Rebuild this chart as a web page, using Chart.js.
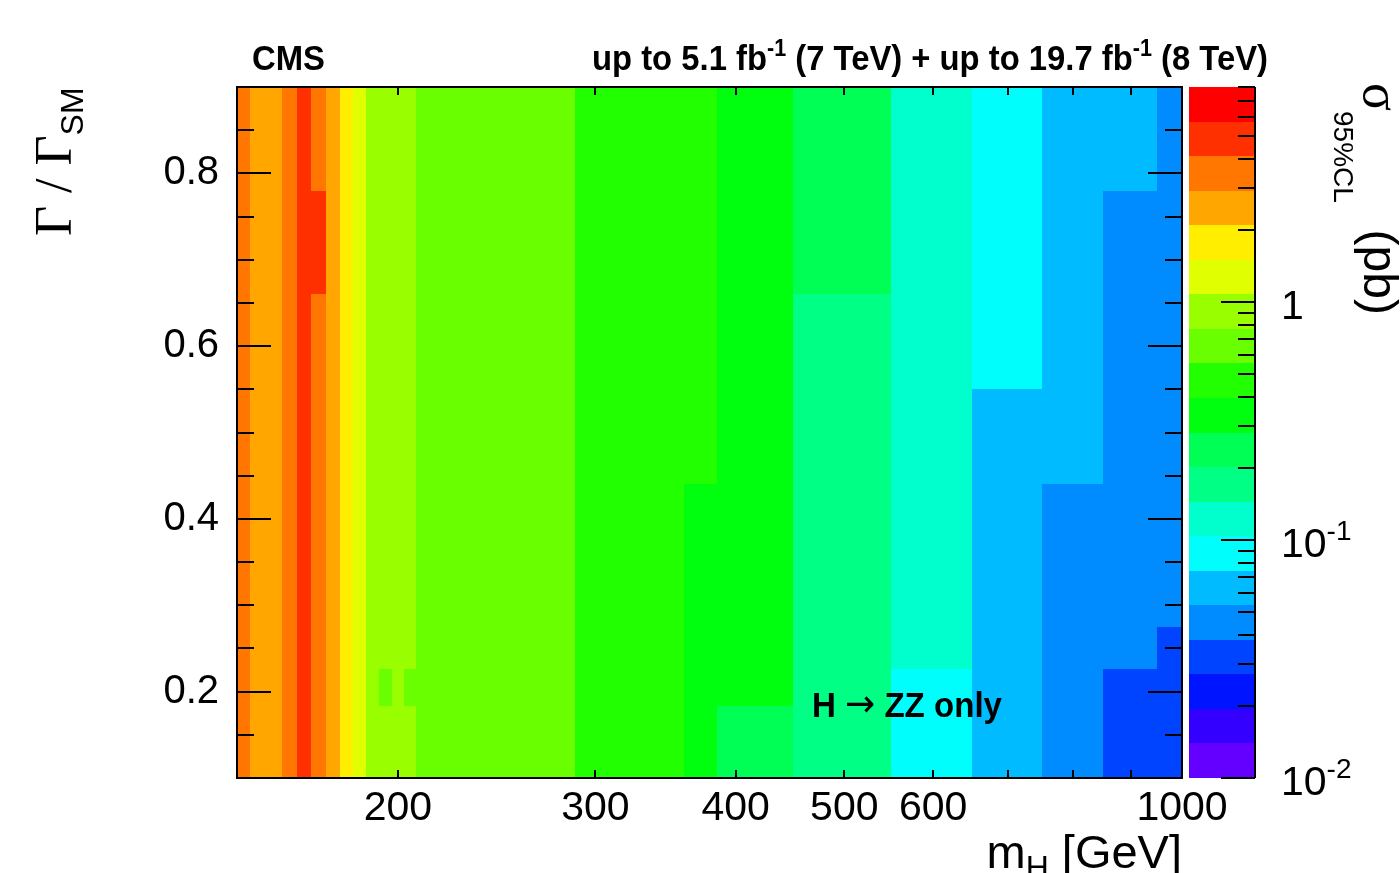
<!DOCTYPE html>
<html>
<head>
<meta charset="utf-8">
<title>Width vs mass limits</title>
<script src="https://cdn.jsdelivr.net/npm/chart.js@4.4.1/dist/chart.umd.min.js"></script>
<style>
  html, body { margin: 0; padding: 0; background: #fff; }
  #wrap { width: 1400px; height: 873px; }
</style>
</head>
<body>
<div id="wrap"><canvas id="limits" width="1400" height="873"></canvas></div>
<script>
// mass bin edges (GeV)
var massEdges = [143.75, 147.5, 157.5, 162.5, 167.5, 172.5, 177.5, 182.5, 187.5, 192.5, 197.5,
                 202.5, 207.5, 287.5, 360, 385, 450, 550, 650, 750, 850, 950, 1000];
// width bin edges (Gamma / Gamma_SM)
var widthEdges = [0.1, 0.183, 0.226, 0.275, 0.44, 0.55, 0.66, 0.78, 0.9];

// 95% CL limit on sigma (pb), one row per width bin, lowest width first
var sigmaRow0 = [3.4, 2.6, 3.3, 4.6, 3.6, 2.7, 1.9, 1.25, 0.95, 0.86, 0.88, 0.83, 0.62, 0.45, 0.36, 0.25, 0.16, 0.095, 0.068, 0.049, 0.036, 0.035];
var sigmaRow1 = [3.4, 2.6, 3.3, 4.6, 3.6, 2.7, 1.9, 1.25, 0.95, 0.74, 0.88, 0.72, 0.62, 0.45, 0.36, 0.31, 0.16, 0.095, 0.068, 0.049, 0.036, 0.035];
var sigmaRow2 = [3.4, 2.6, 3.3, 4.6, 3.6, 2.7, 1.9, 1.25, 0.95, 0.86, 0.88, 0.83, 0.62, 0.45, 0.36, 0.31, 0.16, 0.13, 0.068, 0.049, 0.043, 0.035];
var sigmaRow3 = [3.3, 2.6, 3.3, 4.6, 3.6, 2.7, 1.9, 1.25, 0.94, 0.86, 0.88, 0.83, 0.62, 0.45, 0.36, 0.31, 0.16, 0.13, 0.067, 0.048, 0.043, 0.047];
var sigmaRow4 = [3.3, 2.6, 3.3, 4.7, 3.6, 2.7, 1.9, 1.26, 0.94, 0.87, 0.88, 0.84, 0.63, 0.46, 0.41, 0.31, 0.16, 0.13, 0.068, 0.058, 0.044, 0.047];
var sigmaRow5 = [3.3, 2.6, 3.3, 4.7, 3.7, 2.7, 1.9, 1.26, 0.94, 0.87, 0.88, 0.84, 0.63, 0.46, 0.41, 0.31, 0.16, 0.13, 0.082, 0.058, 0.044, 0.047];
var sigmaRow6 = [3.3, 2.6, 3.4, 4.7, 4.4, 2.7, 1.9, 1.26, 0.94, 0.87, 0.88, 0.84, 0.63, 0.46, 0.41, 0.31, 0.21, 0.13, 0.083, 0.058, 0.044, 0.047];
var sigmaRow7 = [3.3, 2.6, 3.4, 4.7, 3.7, 2.7, 1.9, 1.26, 0.94, 0.87, 0.88, 0.84, 0.63, 0.46, 0.41, 0.31, 0.21, 0.13, 0.083, 0.059, 0.056, 0.047];
var sigmaRows = [sigmaRow0, sigmaRow1, sigmaRow2, sigmaRow3, sigmaRow4, sigmaRow5, sigmaRow6, sigmaRow7];

// axis ticks
var massTicks = [200, 300, 400, 500, 600, 700, 800, 900, 1000];
var massLabels = [200, 300, 400, 500, 600, 1000];
var widthMajor = [0.2, 0.4, 0.6, 0.8];
var widthMinor = [0.1, 0.15, 0.25, 0.3, 0.35, 0.45, 0.5, 0.55, 0.65, 0.7, 0.75, 0.85];

// z axis (colour scale)
var zMin = 0.01, zMax = 8, nLevels = 20;
var zMajor = [0.01, 0.1, 1];
var zMinor = [0.02, 0.03, 0.04, 0.05, 0.06, 0.07, 0.08, 0.09,
              0.2, 0.3, 0.4, 0.5, 0.6, 0.7, 0.8, 0.9, 2, 3, 4, 5, 6, 7, 8];
var zLabels = ['10|-2', '10|-1', '1'];

var sansFont = "'Liberation Sans', Arial, Helvetica, sans-serif";
var serifFont = "'Liberation Serif', 'Times New Roman', serif";

// rainbow palette, violet -> red, hue scan at fixed lightness/saturation
function hueChannel(h) {
  h = (h + 360) % 360;
  if (h < 60) return h / 60;
  if (h < 180) return 1;
  if (h < 240) return (240 - h) / 60;
  return 0;
}
function hlsColor(h) {
  return 'rgb(' + Math.round(255 * hueChannel(h + 120)) + ',' +
    Math.round(255 * hueChannel(h)) + ',' + Math.round(255 * hueChannel(h - 120)) + ')';
}
var palette = [];
for (var i = 0; i < 49; i++) palette.push(hlsColor(280 - (i + 1) * 5.6));
palette.push('rgb(255,0,0)');

function levelColor(k) {
  return palette[Math.floor((k + 0.99) * palette.length / nLevels)];
}
function levelOf(v) {
  var f = (Math.log10(v) - Math.log10(zMin)) / (Math.log10(zMax) - Math.log10(zMin));
  return Math.max(0, Math.min(nLevels - 1, Math.floor(f * nLevels)));
}

// text made of runs: {t, font, dy}; optional squeeze to a given width
function drawRuns(ctx, runs, x, y, align, fitWidth) {
  var w = 0;
  runs.forEach(function (r) { ctx.font = r.font; r.w = ctx.measureText(r.t).width; w += r.w; });
  var sx = fitWidth ? fitWidth / w : 1;
  var start = align === 'right' ? -w * sx : (align === 'center' ? -w * sx / 2 : 0);
  ctx.save();
  ctx.translate(x + start, y);
  ctx.scale(sx, 1);
  ctx.textAlign = 'left';
  ctx.textBaseline = 'alphabetic';
  var cx = 0;
  runs.forEach(function (r) { ctx.font = r.font; ctx.fillText(r.t, cx, r.dy || 0); cx += r.w; });
  ctx.restore();
}

var heatmap = {
  id: 'heatmap',
  beforeDatasetsDraw: function (chart) {
    var ctx = chart.ctx, xs = chart.scales.x, ys = chart.scales.y, zs = chart.scales.z;
    ctx.save();
    for (var r = 0; r < sigmaRows.length; r++) {
      var yTop = Math.round(ys.getPixelForValue(widthEdges[r + 1]));
      var yBot = Math.round(ys.getPixelForValue(widthEdges[r]));
      for (var c = 0; c < sigmaRows[r].length; c++) {
        var xL = Math.round(xs.getPixelForValue(massEdges[c]));
        var xR = Math.round(xs.getPixelForValue(massEdges[c + 1]));
        ctx.fillStyle = levelColor(levelOf(sigmaRows[r][c]));
        ctx.fillRect(xL, yTop, xR - xL, yBot - yTop);
      }
    }
    // colour bar
    var step = (Math.log10(zMax) - Math.log10(zMin)) / nLevels;
    for (var k = 0; k < nLevels; k++) {
      var lo = Math.pow(10, Math.log10(zMin) + k * step);
      var hi = Math.pow(10, Math.log10(zMin) + (k + 1) * step);
      var y0 = Math.round(zs.getPixelForValue(hi));
      var y1 = Math.round(zs.getPixelForValue(lo));
      ctx.fillStyle = levelColor(k);
      ctx.fillRect(1189, y0, 66, y1 - y0);
    }
    ctx.restore();
  },
  afterDraw: function (chart) {
    var ctx = chart.ctx, a = chart.chartArea;
    var xs = chart.scales.x, ys = chart.scales.y, zs = chart.scales.z;
    ctx.save();
    ctx.strokeStyle = '#000';
    ctx.lineWidth = 2;
    ctx.strokeRect(a.left, a.top, a.right - a.left, a.bottom - a.top);

    ctx.beginPath();
    massTicks.forEach(function (m) {
      var x = Math.round(xs.getPixelForValue(m));
      ctx.moveTo(x, a.bottom); ctx.lineTo(x, a.bottom - 8);
      ctx.moveTo(x, a.top); ctx.lineTo(x, a.top + 8);
    });
    function yTick(v, len) {
      var y = Math.round(ys.getPixelForValue(v));
      ctx.moveTo(a.left, y); ctx.lineTo(a.left + len, y);
      ctx.moveTo(a.right, y); ctx.lineTo(a.right - len, y);
    }
    widthMajor.forEach(function (v) { yTick(v, 34); });
    widthMinor.forEach(function (v) { yTick(v, 17); });

    // colour bar axis
    ctx.moveTo(1255, a.top); ctx.lineTo(1255, a.bottom);
    zMajor.forEach(function (v) {
      var y = Math.round(zs.getPixelForValue(v));
      ctx.moveTo(1255, y); ctx.lineTo(1221, y);
    });
    zMinor.forEach(function (v) {
      var y = Math.round(zs.getPixelForValue(v));
      ctx.moveTo(1255, y); ctx.lineTo(1238, y);
    });
    ctx.stroke();

    ctx.fillStyle = '#000';
    zMajor.forEach(function (v, i) {
      var y = zs.getPixelForValue(v) + 17;
      var parts = zLabels[i].split('|');
      var runs = [{ t: parts[0], font: '41px ' + sansFont }];
      if (parts[1]) runs.push({ t: parts[1], font: '28px ' + sansFont, dy: -17 });
      drawRuns(ctx, runs, 1281, y, 'left');
    });

    // header
    drawRuns(ctx, [{ t: 'CMS', font: 'bold 35px ' + sansFont }], 252, 70, 'left', 73);
    drawRuns(ctx, [
      { t: 'up to 5.1 fb', font: 'bold 35px ' + sansFont },
      { t: '-1', font: 'bold 23px ' + sansFont, dy: -14 },
      { t: ' (7 TeV) + up to 19.7 fb', font: 'bold 35px ' + sansFont },
      { t: '-1', font: 'bold 23px ' + sansFont, dy: -14 },
      { t: ' (8 TeV)', font: 'bold 35px ' + sansFont }
    ], 1268, 70, 'right', 676);

    // channel label
    drawRuns(ctx, [
      { t: 'H ', font: 'bold 35px ' + sansFont },
      { t: '\u2192', font: "38px 'DejaVu Sans', sans-serif", dy: -1 },
      { t: ' ZZ only', font: 'bold 35px ' + sansFont }
    ], 812, 717, 'left', 190);

    // x title
    drawRuns(ctx, [
      { t: 'm', font: '47px ' + sansFont },
      { t: 'H', font: '32px ' + sansFont, dy: 10 },
      { t: ' [GeV]', font: '47px ' + sansFont }
    ], 1182, 868, 'right');

    // y title
    ctx.save();
    ctx.translate(71, 236);
    ctx.rotate(-Math.PI / 2);
    drawRuns(ctx, [
      { t: '\u0393 / \u0393', font: '52px ' + serifFont },
      { t: 'SM', font: '32px ' + sansFont, dy: 12 }
    ], 0, 0, 'left');
    ctx.restore();

    // z title
    ctx.save();
    ctx.translate(1364, 83);
    ctx.rotate(Math.PI / 2);
    drawRuns(ctx, [
      { t: '\u03c3', font: '52px ' + serifFont },
      { t: '95%CL', font: '28px ' + sansFont, dy: 30 },
      { t: '  (pb)', font: '48px ' + sansFont }
    ], 0, 0, 'left');
    ctx.restore();
    ctx.restore();
  }
};

var ctx = document.getElementById('limits');
var limitChart = new Chart(ctx, {
  type: 'scatter',
  data: { datasets: [{ data: [], pointRadius: 0 }] },
  plugins: [heatmap],
  options: {
    responsive: false,
    devicePixelRatio: 1,
    animation: false,
    layout: { padding: { top: 87, right: 0, bottom: 0, left: 0 } },
    plugins: { legend: { display: false }, tooltip: { enabled: false } },
    scales: {
      x: {
        type: 'logarithmic',
        min: 143.75,
        max: 1000,
        grid: { display: false },
        border: { display: false },
        afterBuildTicks: function (s) { s.ticks = massTicks.map(function (v) { return { value: v }; }); },
        afterFit: function (s) { s.height = 95; },
        ticks: {
          autoSkip: false,
          maxRotation: 0,
          padding: 2,
          color: '#000',
          font: { family: sansFont, size: 41, lineHeight: 1 },
          callback: function (v) { return massLabels.indexOf(v) >= 0 ? String(v) : ''; }
        }
      },
      y: {
        type: 'linear',
        min: 0.1,
        max: 0.9,
        grid: { display: false },
        border: { display: false },
        afterBuildTicks: function (s) { s.ticks = widthMajor.map(function (v) { return { value: v }; }); },
        afterFit: function (s) { s.width = 237; },
        ticks: {
          padding: 10,
          color: '#000',
          font: { family: sansFont, size: 40 },
          callback: function (v) { return v.toFixed(1); }
        }
      },
      z: {
        type: 'logarithmic',
        position: 'right',
        min: zMin,
        max: zMax,
        grid: { display: false },
        border: { display: false },
        afterBuildTicks: function (s) { s.ticks = zMajor.map(function (v) { return { value: v }; }); },
        afterFit: function (s) { s.width = 218; },
        ticks: { display: false }
      }
    }
  }
});
</script>
</body>
</html>
